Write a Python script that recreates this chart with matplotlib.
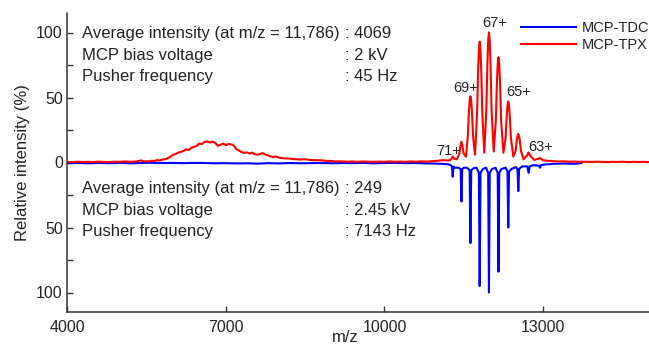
import numpy as np
import matplotlib
matplotlib.use("Agg")
import matplotlib.pyplot as plt
from matplotlib.ticker import FuncFormatter, MultipleLocator

plt.rcParams['font.family'] = ['Liberation Sans', 'DejaVu Sans']

# ---------------- data ----------------
# MCP-TPX (red, positive)
red_base_left_mz = list(range(4000, 5401, 100))
red_base_left = [0.4, 0.3, 0.6, 0.4, 0.5, 0.3, 0.7, 0.4, 0.4, 0.6, 0.5, 0.8, 0.6, 0.7, 1.6]

red_hump_mz = list(range(5450, 8000, 50)) + list(range(8000, 9001, 100))
red_hump = [0.8, 1.0, 0.9, 1.3, 1.2, 1.8, 1.6, 2.2, 2.5, 3.2, 4.4, 5.8, 6.5, 7.6, 8.2,
            8.8, 10.2, 9.6, 11.4, 12.0, 12.8, 14.6, 14.2, 15.8, 16.2, 15.4, 16.0, 15.2,
            12.8, 13.6, 14.6, 13.4, 14.2, 14.0, 13.2, 10.4, 9.2, 8.0, 7.4, 7.8, 6.9,
            7.6, 6.4, 6.0, 6.6, 7.2, 6.1, 5.4, 4.6, 4.2, 4.6,
            3.8, 3.2, 3.0, 2.6, 2.3, 2.5, 1.9, 1.8, 1.7, 1.3, 1.1]

red_base_mid_mz = list(range(9100, 11201, 100))
red_base_mid = [0.8, 0.9, 0.6, 0.8, 0.5, 0.8, 0.6, 0.5, 0.7, 0.5, 0.8, 0.6, 0.7,
                0.5, 0.8, 0.6, 0.9, 0.7, 1.0, 1.3, 1.8, 1.5]

red_peak_mz = [11235, 11260, 11290, 11320, 11370,
               11415, 11435, 11455, 11475, 11495, 11540,
               11575, 11595, 11611, 11625, 11639, 11655, 11675, 11712,
               11750, 11770, 11786, 11800, 11814, 11830, 11850, 11887,
               11925, 11945, 11961, 11975, 11989, 12005, 12025, 12065,
               12105, 12125, 12141, 12155, 12169, 12185, 12205, 12248,
               12290, 12310, 12326, 12340, 12354, 12370, 12390, 12435,
               12480, 12500, 12516, 12530, 12544, 12560, 12580, 12628,
               12690, 12725, 12760, 12830, 12900, 12935, 12970]
red_peak = [1.8, 2.5, 4.6, 2.8, 2.5,
            7.0, 12.5, 16.0, 12.5, 7.0, 4.5,
            20.0, 38.0, 48.0, 51.0, 48.0, 38.0, 20.0, 6.0,
            37.0, 70.0, 87.0, 93.0, 87.0, 70.0, 37.0, 7.5,
            40.0, 75.0, 94.0, 100.0, 94.0, 75.0, 40.0, 8.5,
            32.0, 61.0, 76.0, 81.0, 76.0, 61.0, 32.0, 7.5,
            19.0, 35.0, 44.0, 47.0, 44.0, 35.0, 19.0, 4.6,
            9.0, 16.5, 20.5, 22.0, 20.5, 16.5, 9.0, 2.5,
            5.0, 7.7, 5.0, 2.0, 2.8, 3.5, 2.5]

red_base_right_mz = list(range(13000, 15001, 100))
red_base_right = [1.8, 1.2, 1.0, 0.8, 0.9, 0.6, 0.7, 0.5, 0.6, 0.4, 0.6, 0.5, 0.3,
                  0.5, 0.4, 0.6, 0.3, 0.5, 0.4, 0.5, 0.3]

# MCP-TDC (blue, plotted negative)
blue_base_mz = list(range(4000, 11201, 200))
blue_base = [-0.5, -0.3, -0.6, -0.4, -0.5, -0.3, -0.6, -0.4, -0.2, -0.4, -0.3, -0.5,
             -0.3, -0.4, -0.6, -0.5, -0.7, -0.6, -0.9, -0.5, -0.7, -0.4, -0.6, -0.5,
             -0.3, -0.6, -0.4, -0.5, -0.3, -0.6, -0.4, -0.3, -0.5, -0.4, -0.7, -0.9, -1.3]

blue_peak_mz = [11250, 11275, 11290, 11305, 11330, 11400, 11440, 11455, 11470, 11500,
                11560, 11610, 11625, 11640, 11680, 11740, 11785, 11800, 11815, 11860,
                11920, 11960, 11975, 11990, 12030, 12100, 12140, 12155, 12170, 12210,
                12290, 12325, 12340, 12355, 12400, 12480, 12515, 12530, 12545, 12600,
                12700, 12725, 12745, 12820, 12920, 12940, 12960, 13050, 13200, 13400,
                13600, 13720]
blue_peak = [-2.0, -3.0, -11.0, -3.0, -4.0, -4.0, -5.0, -30.0, -5.0, -4.0,
             -4.0, -6.0, -62.0, -6.0, -4.5, -4.0, -8.0, -95.0, -8.0, -5.0,
             -4.0, -8.0, -100.0, -8.0, -5.0, -4.0, -8.0, -84.0, -8.0, -5.0,
             -4.0, -7.0, -50.0, -7.0, -5.0, -3.5, -5.0, -22.0, -5.0, -3.0,
             -3.0, -8.0, -3.0, -2.0, -2.5, -4.0, -2.0, -1.5, -1.0, -0.8,
             -1.0, -0.5]

charge_labels = ["67+", "69+", "65+", "71+", "63+"]
charge_x = [12088, 11540, 12541, 11218, 12957]
charge_y = [107, 57, 54, 9.2, 12.3]

info_top_keys = ["Average intensity (at m/z = 11,786)", "MCP bias voltage", "Pusher frequency"]
info_top_vals = [": 4069", ": 2 kV", ": 45 Hz"]
info_bot_keys = ["Average intensity (at m/z = 11,786)", "MCP bias voltage", "Pusher frequency"]
info_bot_vals = [": 249", ": 2.45 kV", ": 7143 Hz"]
info_top_y = [99.2, 82.3, 66.2]
info_bot_y = [-20.0, -36.9, -53.0]

xticks = [4000, 7000, 10000, 13000]
yticks = [-100, -50, 0, 50, 100]

# ---------------- plot ----------------
red_mz = red_base_left_mz + red_hump_mz + red_base_mid_mz + red_peak_mz + red_base_right_mz
red_y = red_base_left + red_hump + red_base_mid + red_peak + red_base_right
blue_mz = blue_base_mz + blue_peak_mz
blue_y = blue_base + blue_peak

fig = plt.figure(figsize=(6.49, 3.46), dpi=100)
ax = fig.add_axes([67 / 649, 1 - 312 / 346, 582 / 649, 299 / 346])

ax.plot(blue_mz, blue_y, color="#0000ff", lw=1.5, label="MCP-TDC")
ax.plot(red_mz, red_y, color="#ff0000", lw=1.5, label="MCP-TPX")

ax.set_xlim(4000, 15000)
ax.set_ylim(-115, 115)
ax.set_xticks(xticks)
ax.set_yticks(yticks)
ax.yaxis.set_minor_locator(MultipleLocator(25))
ax.yaxis.set_major_formatter(FuncFormatter(lambda v, p: f"{abs(v):g}"))

txtc = "#222222"
for s in ["top", "right"]:
    ax.spines[s].set_visible(False)
for s in ["left", "bottom"]:
    ax.spines[s].set_linewidth(1.1)
    ax.spines[s].set_color("#333333")

ax.tick_params(axis="both", which="both", direction="in", color="#333333",
               labelsize=11.5, labelcolor=txtc)
ax.tick_params(axis="both", which="major", length=4.5, width=1.0)
ax.tick_params(axis="y", which="minor", length=4.0, width=1.0)
ax.tick_params(axis="x", pad=6)
ax.tick_params(axis="y", pad=3)

ax.set_xlabel("m/z", fontsize=12, color=txtc)
ax.set_ylabel("Relative intensity (%)", fontsize=12, color=txtc)
ax.xaxis.set_label_coords(0.478, -0.06)
ax.yaxis.set_label_coords(-0.064, 0.5)

for lab, x, y in zip(charge_labels, charge_x, charge_y):
    ax.text(x, y, lab, fontsize=10.5, ha="center", va="center", color=txtc)

for k, v, y in zip(info_top_keys, info_top_vals, info_top_y):
    ax.text(4278, y, k, fontsize=12, ha="left", va="center", color=txtc)
    ax.text(9255, y, v, fontsize=12, ha="left", va="center", color=txtc)
for k, v, y in zip(info_bot_keys, info_bot_vals, info_bot_y):
    ax.text(4278, y, k, fontsize=12, ha="left", va="center", color=txtc)
    ax.text(9255, y, v, fontsize=12, ha="left", va="center", color=txtc)

leg = ax.legend(loc="upper left", bbox_to_anchor=(0.780, 0.972), frameon=False,
                fontsize=10.5, handlelength=3.8, handletextpad=0.34, borderpad=0,
                borderaxespad=0, labelspacing=0.2)
for t in leg.get_texts():
    t.set_color(txtc)

fig.savefig("out.png", dpi=100)
